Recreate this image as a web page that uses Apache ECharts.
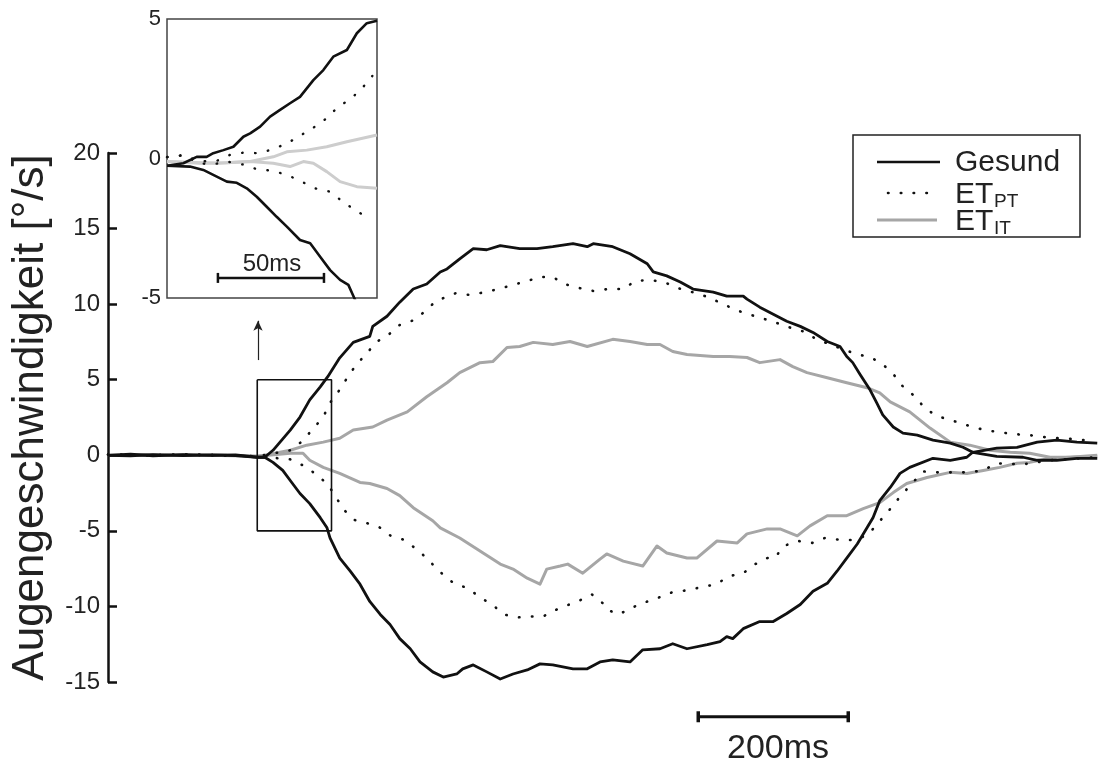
<!DOCTYPE html>
<html><head><meta charset="utf-8">
<script src="https://cdn.jsdelivr.net/npm/echarts@6/dist/echarts.min.js"></script>
<style>html,body{margin:0;padding:0;background:#fff}#c{width:1099px;height:765px}</style>
</head><body><div id="c"></div>
<script>
// time in ms, velocity in deg/s
const gesundUp = [[0,0],[30,0.07],[60,-0.03],[100,0.05],[140,0.0],[170,0.03],[199,-0.13],[209,-0.13],[220,0.33],[243,1.67],[256,2.53],[269,3.67],[283,4.53],[293,5.2],[309,6.45],[327,7.47],[349,7.87],[353,8.53],[372,9.2],[389,10.13],[407,11.0],[425,11.33],[443,12.13],[452,12.33],[469,13.0],[487,13.67],[505,13.6],[523,13.87],[549,13.67],[572,13.67],[593,13.8],[620,14.0],[639,13.8],[647,14.0],[673,13.8],[696,13.33],[719,12.67],[727,12.13],[745,11.87],[763,11.47],[780,11.0],[807,10.8],[825,10.53],[847,10.53],[852,10.33],[869,9.8],[887,9.33],[905,8.87],[923,8.53],[940,8.13],[959,7.53],[976,7.2],[985,6.53],[993,6.13],[1003,5.33],[1016,4.33],[1025,3.47],[1033,2.67],[1047,1.87],[1060,1.47],[1079,1.33],[1100,1.0],[1123,0.8],[1140,0.53],[1153,0.2],[1185,0.47],[1212,0.53],[1239,0.87],[1265,1.0],[1292,0.87],[1319,0.8]];
const gesundDown = [[0,0],[30,-0.03],[60,0.04],[100,-0.02],[140,0.03],[170,-0.02],[199,-0.13],[209,-0.13],[220,-0.47],[233,-1.0],[243,-1.67],[256,-2.53],[269,-3.2],[283,-4.13],[292,-4.8],[296,-5.47],[309,-6.8],[323,-7.67],[336,-8.53],[349,-9.67],[363,-10.53],[376,-11.2],[389,-12.13],[403,-12.8],[416,-13.67],[433,-14.33],[447,-14.67],[465,-14.47],[473,-14.13],[487,-13.87],[505,-14.33],[523,-14.8],[540,-14.47],[559,-14.2],[576,-13.8],[593,-13.87],[620,-14.13],[639,-14.13],[656,-13.67],[673,-13.53],[696,-13.67],[713,-12.87],[736,-12.8],[753,-12.47],[772,-12.8],[799,-12.53],[816,-12.33],[825,-12.0],[833,-12.13],[847,-11.47],[869,-11.0],[887,-11.0],[905,-10.47],[923,-9.87],[940,-9.0],[959,-8.47],[972,-7.67],[985,-6.8],[999,-5.87],[1012,-4.8],[1020,-4.13],[1029,-3.0],[1043,-2.13],[1056,-1.2],[1069,-0.8],[1100,-0.2],[1123,-0.33],[1145,-0.13],[1153,0.2],[1185,-0.07],[1220,-0.13],[1239,-0.33],[1265,-0.33],[1292,-0.2],[1319,-0.2]];
const etptUp = [[0,0.05],[50,0],[100,0.05],[150,0],[199,-0.07],[243,0.33],[259,0.93],[273,1.73],[287,2.53],[296,3.47],[307,4.2],[319,5.13],[331,6.0],[345,6.73],[357,7.47],[373,7.93],[388,8.6],[407,8.93],[423,9.53],[437,10.2],[464,10.73],[483,10.6],[503,10.8],[521,11.0],[540,11.27],[559,11.53],[576,11.8],[593,11.8],[609,11.33],[628,11.07],[647,10.87],[667,11.0],[687,11.0],[703,11.53],[721,11.6],[741,11.47],[759,11.07],[779,10.8],[796,10.53],[815,10.13],[832,9.73],[849,9.4],[868,9.13],[889,8.8],[908,8.47],[927,8.2],[945,7.67],[963,7.33],[999,6.67],[1016,6.51],[1033,6.02],[1047,5.38],[1059,4.6],[1075,3.93],[1089,3.13],[1105,2.6],[1132,2.2],[1149,1.93],[1169,1.67],[1188,1.53],[1208,1.4],[1229,1.33],[1249,1.2],[1269,1.13],[1291,1.07],[1311,0.93]];
const etptDown = [[0,0.05],[50,0],[100,0.05],[150,0],[199,-0.07],[243,-0.27],[260,-0.67],[276,-1.2],[292,-1.87],[303,-2.67],[313,-3.53],[328,-4.27],[348,-4.53],[361,-4.73],[377,-5.33],[395,-5.6],[411,-6.2],[425,-6.8],[440,-7.6],[461,-8.47],[480,-8.8],[496,-9.4],[512,-9.87],[528,-10.53],[545,-10.73],[563,-10.67],[580,-10.67],[595,-10.27],[612,-9.93],[629,-9.6],[645,-9.2],[660,-9.8],[665,-10.2],[681,-10.53],[699,-10.07],[716,-9.73],[735,-9.4],[752,-9.07],[772,-8.93],[791,-8.73],[811,-8.53],[828,-8.0],[847,-7.8],[863,-7.2],[879,-6.8],[889,-6.8],[901,-6.0],[920,-5.67],[939,-5.8],[956,-5.47],[977,-5.6],[996,-5.6],[1013,-5.27],[1027,-4.47],[1040,-3.73],[1053,-2.93],[1067,-2.13],[1087,-1.07],[1105,-1.13],[1129,-1.13],[1148,-1.13],[1167,-1.0],[1184,-0.53],[1220,-0.6],[1256,-0.33],[1319,-0.13]];
const etitUp = [[0,0.0],[50,0.03],[100,-0.02],[150,0.02],[199,-0.07],[209,0],[243,0.33],[265,0.67],[287,0.87],[309,1.13],[327,1.67],[353,1.87],[372,2.33],[399,2.87],[425,3.87],[452,4.8],[469,5.47],[496,6.13],[513,6.2],[532,7.13],[549,7.2],[567,7.47],[593,7.33],[616,7.53],[639,7.2],[673,7.67],[696,7.53],[719,7.33],[736,7.33],[753,6.87],[772,6.67],[807,6.53],[829,6.53],[852,6.47],[869,6.13],[896,6.33],[913,5.87],[932,5.47],[959,5.13],[985,4.8],[1012,4.47],[1029,4.13],[1043,3.53],[1069,2.87],[1096,1.8],[1123,0.87],[1149,0.67],[1176,0.33],[1203,0.2],[1229,0.13],[1256,-0.13],[1283,-0.13],[1319,0]];
const etitDown = [[0,0],[50,-0.02],[100,0.03],[150,-0.02],[199,-0.07],[243,0.13],[260,0.13],[269,-0.33],[287,-0.8],[309,-1.2],[336,-1.8],[349,-1.87],[372,-2.2],[389,-2.67],[407,-3.47],[433,-4.33],[443,-4.8],[469,-5.47],[496,-6.33],[523,-7.2],[540,-7.53],[559,-8.13],[576,-8.53],[585,-7.53],[603,-7.33],[613,-7.2],[633,-7.8],[656,-6.87],[665,-6.53],[687,-7.0],[713,-7.33],[732,-6.0],[745,-6.47],[772,-6.8],[785,-6.8],[812,-5.67],[839,-5.8],[852,-5.2],[879,-4.87],[896,-4.87],[919,-5.33],[936,-4.67],[959,-4.0],[985,-4.0],[1007,-3.53],[1029,-3.13],[1047,-2.47],[1065,-1.87],[1092,-1.47],[1123,-1.13],[1145,-1.2],[1167,-1.0],[1189,-0.8],[1212,-0.53],[1229,-0.47],[1256,-0.2],[1283,-0.13],[1319,-0.07]];

// inset (zoomed window)
const insetGesundUp = [[199,-0.26],[206.7,-0.17],[213,0.06],[217.7,0.06],[220.8,0.19],[225.6,0.3],[230.3,0.42],[235,0.78],[238.2,0.9],[242.9,1.14],[247.6,1.5],[252.3,1.74],[257,1.98],[261.7,2.21],[268,2.81],[272.7,3.17],[277.4,3.65],[283.8,3.89],[288.5,4.49],[293.2,4.85],[298,4.94]];
const insetGesundDown = [[199,-0.26],[209.8,-0.29],[216.1,-0.41],[220.8,-0.59],[227.2,-0.83],[231.9,-0.87],[236.6,-1.07],[241.3,-1.37],[246,-1.73],[250.7,-2.09],[255.5,-2.44],[261.7,-2.92],[266.5,-3.04],[271.2,-3.52],[275.9,-4.0],[280.6,-4.35],[284.5,-4.53],[287.7,-5.07],[289,-5.3]];
const insetEtptUp = [[199,0.05],[207,0.12],[214,-0.1],[222,-0.1],[228.7,0.13],[235,0.21],[242.1,0.19],[248.9,0.33],[255.5,0.54],[262.1,0.83],[268.3,1.12],[274.3,1.44],[279.5,1.84],[285.7,2.14],[291.1,2.53],[295.8,2.96]];
const insetEtptDown = [[199,0.05],[207,0.12],[213.8,-0.17],[220.8,-0.21],[227.2,-0.11],[234.5,-0.21],[241.3,-0.38],[248.7,-0.44],[255.7,-0.59],[262.5,-0.83],[268.8,-1.07],[275.9,-1.19],[281.9,-1.55],[287.7,-1.85],[294,-2.14]];
const insetEtitUp = [[199,-0.11],[214.6,-0.17],[227.2,-0.15],[238.2,-0.11],[249.1,0.06],[255.5,0.24],[264.9,0.3],[274.3,0.42],[283.8,0.6],[298,0.84]];
const insetEtitDown = [[199,-0.11],[222.4,-0.17],[238.2,-0.11],[249.1,-0.17],[257,-0.29],[263.3,-0.11],[268,-0.17],[274.3,-0.47],[280.6,-0.83],[288.5,-1.01],[298,-1.07]];

const yTicksMain = [-15, -10, -5, 0, 5, 10, 15, 20];
const yTicksInset = [-5, 0, 5];
const zoomWindowT = [199, 298];   // ms
const zoomWindowV = [-5, 5];      // deg/s
const scaleBarMs = [200, 50];
const scaleBarLabels = ['200ms', '50ms'];
const legendNames = ['Gesund', 'ET', 'ET'];
const legendSubs = ['', 'PT', 'IT'];
const yTitle = 'Augengeschwindigkeit [°/s]';

const FONT = 'Liberation Sans, Arial, Helvetica, sans-serif';
const BLACK = '#111', GRAY = '#a6a6a6', LGRAY = '#cdcdcd';

const chart = echarts.init(document.getElementById('c'), null, {renderer: 'canvas'});

function line(data, color, width, xi, dotted, z) {
  return {
    type: 'line', data: data, xAxisIndex: xi, yAxisIndex: xi,
    showSymbol: false, symbol: 'none', silent: true, animation: false, z: z,
    lineStyle: dotted ? {color: color, width: width, type: [0.5, 12.5], cap: 'round'}
                      : {color: color, width: width, join: 'round'}
  };
}

const mainBarStart = 787, mainBarV = -17.3;
const insetBarStart = 223, insetBarV = -4.28;

const option = {
  backgroundColor: '#fff',
  animation: false,
  grid: [
    {left: 108, top: 153, width: 990, height: 529, containLabel: false, outerBoundsMode: 'none'},
    {left: 167, top: 19, width: 210, height: 279, containLabel: false, outerBoundsMode: 'none',
     show: true, borderColor: '#444', borderWidth: 1.5, backgroundColor: 'transparent'}
  ],
  xAxis: [
    {type: 'value', gridIndex: 0, min: 0, max: 1320, show: false},
    {type: 'value', gridIndex: 1, min: zoomWindowT[0], max: zoomWindowT[1], show: false}
  ],
  yAxis: [
    {type: 'value', gridIndex: 0, min: yTicksMain[0], max: yTicksMain[yTicksMain.length-1], interval: 5,
     splitLine: {show: false},
     axisLine: {show: true, lineStyle: {color: '#111', width: 2.5}},
     axisTick: {show: true, inside: true, length: 9, lineStyle: {color: '#111', width: 2.5}},
     axisLabel: {fontFamily: FONT, fontSize: 24, color: '#222', margin: 8},
     name: yTitle, nameLocation: 'middle', nameRotate: 90, nameGap: 55,
     nameTextStyle: {fontFamily: FONT, fontSize: 44, color: '#222'}},
    {type: 'value', gridIndex: 1, min: yTicksInset[0], max: yTicksInset[yTicksInset.length-1], interval: 5,
     splitLine: {show: false}, axisLine: {show: false}, axisTick: {show: false},
     axisLabel: {fontFamily: FONT, fontSize: 22, color: '#222', margin: 6}}
  ],
  series: [
    line(etitUp, GRAY, 3, 0, false, 2),
    line(etitDown, GRAY, 3, 0, false, 2),
    line(etptUp, BLACK, 2.6, 0, true, 3),
    line(etptDown, BLACK, 2.6, 0, true, 3),
    line(gesundUp, BLACK, 2.8, 0, false, 4),
    line(gesundDown, BLACK, 2.8, 0, false, 4),
    line(insetEtitUp, LGRAY, 3, 1, false, 2),
    line(insetEtitDown, LGRAY, 3, 1, false, 2),
    line(insetEtptUp, BLACK, 2.4, 1, true, 3),
    line(insetEtptDown, BLACK, 2.4, 1, true, 3),
    line(insetGesundUp, BLACK, 2.6, 1, false, 4),
    line(insetGesundDown, BLACK, 2.6, 1, false, 4),
    // zoom window box on main chart + arrow
    {type: 'line', xAxisIndex: 0, yAxisIndex: 0, silent: true, showSymbol: false, symbol: 'none', z: 5,
     data: [[zoomWindowT[0], zoomWindowV[1]], [zoomWindowT[1], zoomWindowV[1]], [zoomWindowT[1], zoomWindowV[0]],
            [zoomWindowT[0], zoomWindowV[0]], [zoomWindowT[0], zoomWindowV[1]]],
     lineStyle: {color: '#111', width: 1.6},
     markLine: {silent: true, symbol: ['none', 'arrow'], symbolSize: [7, 10], label: {show: false},
       lineStyle: {color: '#222', width: 1.2, type: 'solid'},
       data: [[{coord: [zoomWindowT[0] + 1, 6.3]}, {coord: [zoomWindowT[0] + 1, 8.9]}]]}},
    // 200 ms scale bar
    {type: 'line', xAxisIndex: 0, yAxisIndex: 0, silent: true, clip: false, z: 5,
     data: [[mainBarStart, mainBarV], [mainBarStart + scaleBarMs[0], mainBarV]],
     showSymbol: true, symbol: 'rect', symbolSize: [3.5, 11], itemStyle: {color: '#111'},
     lineStyle: {color: '#111', width: 3}},
    // 50 ms scale bar
    {type: 'line', xAxisIndex: 1, yAxisIndex: 1, silent: true, clip: false, z: 5,
     data: [[insetBarStart, insetBarV], [insetBarStart + scaleBarMs[1], insetBarV]],
     showSymbol: true, symbol: 'rect', symbolSize: [2.5, 10], itemStyle: {color: '#111'},
     lineStyle: {color: '#111', width: 2.5}}
  ],
  graphic: {elements: [
    {type: 'rect', shape: {x: 853, y: 135, width: 227, height: 102}, style: {fill: '#fff', stroke: '#222', lineWidth: 1.5}, z: 10},
    {type: 'line', shape: {x1: 877, y1: 162, x2: 940, y2: 162}, style: {stroke: BLACK, lineWidth: 2.6}, z: 11},
    {type: 'line', shape: {x1: 888, y1: 193, x2: 939, y2: 193}, style: {stroke: BLACK, lineWidth: 2.6, lineDash: [0.5, 12.3], lineCap: 'round'}, z: 11},
    {type: 'line', shape: {x1: 877, y1: 220, x2: 937, y2: 220}, style: {stroke: GRAY, lineWidth: 3}, z: 11},
    {type: 'text', x: 955, y: 163, z: 11, style: {text: legendNames[0], font: '30px ' + FONT, fill: '#222', verticalAlign: 'middle'}},
    {type: 'text', x: 955, y: 195, z: 11, style: {text: legendNames[1], font: '30px ' + FONT, fill: '#222', verticalAlign: 'middle'}},
    {type: 'text', x: 994, y: 202, z: 11, style: {text: legendSubs[1], font: '19px ' + FONT, fill: '#222', verticalAlign: 'middle'}},
    {type: 'text', x: 955, y: 222, z: 11, style: {text: legendNames[2], font: '30px ' + FONT, fill: '#222', verticalAlign: 'middle'}},
    {type: 'text', x: 994, y: 229, z: 11, style: {text: legendSubs[2], font: '19px ' + FONT, fill: '#222', verticalAlign: 'middle'}},
    {type: 'text', x: 778, y: 749, z: 11, style: {text: scaleBarLabels[0], font: '34px ' + FONT, fill: '#222', align: 'center', verticalAlign: 'middle'}},
    {type: 'text', x: 272, y: 264, z: 11, style: {text: scaleBarLabels[1], font: '24px ' + FONT, fill: '#222', align: 'center', verticalAlign: 'middle'}}
  ]}
};
chart.setOption(option);
</script>
</body></html>
